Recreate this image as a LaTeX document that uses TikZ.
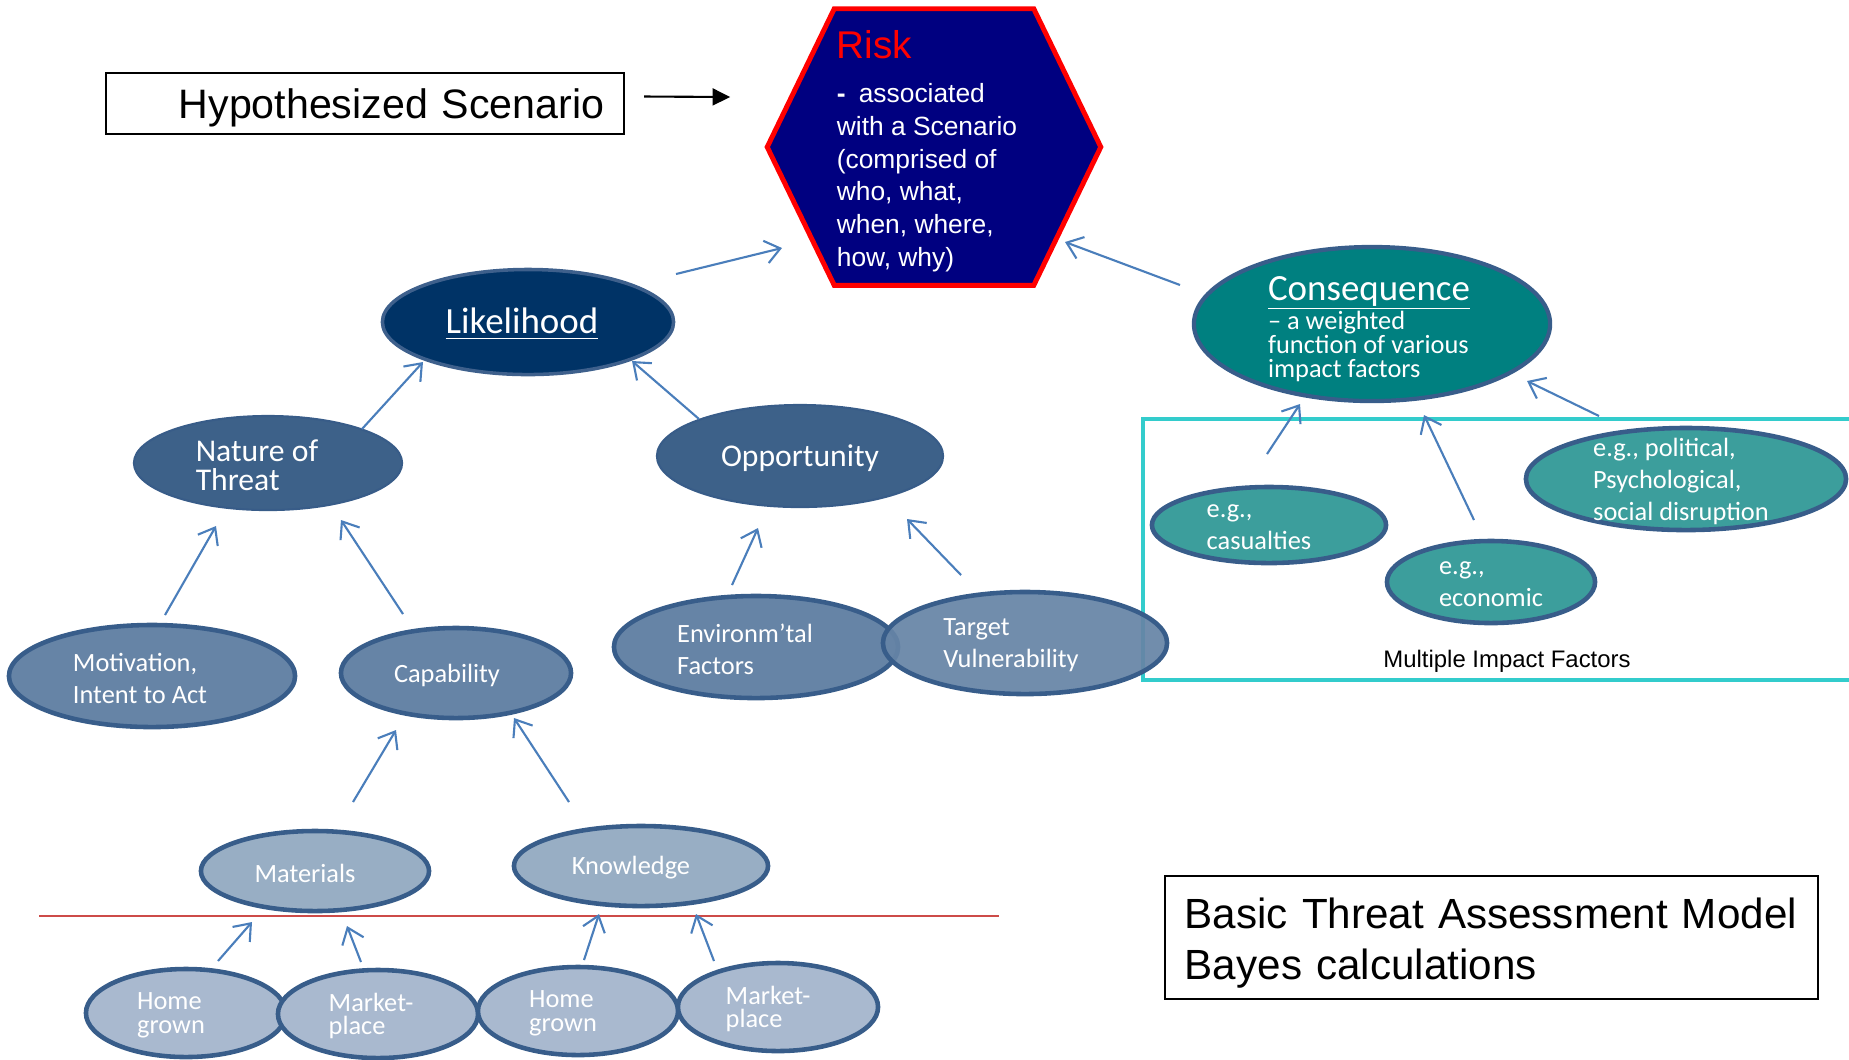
\documentclass[tikz,border=0pt]{standalone}
\usepackage{fontspec}
\setmainfont{Carlito}
\newfontfamily\arialfont{Liberation Sans}
\usetikzlibrary{shapes.geometric, arrows.meta}

\definecolor{riskblue}{RGB}{0,0,128}
\definecolor{likblue}{RGB}{0,51,102}
\definecolor{likedge}{RGB}{62,96,140}
\definecolor{midblue}{RGB}{61,97,137}
\definecolor{midedge}{RGB}{56,92,136}
\definecolor{capblue}{RGB}{102,132,166}
\definecolor{matblue}{RGB}{152,174,196}
\definecolor{srcblue}{RGB}{169,185,207}
\definecolor{edgeblue}{RGB}{56,93,138}
\definecolor{arrblue}{RGB}{74,126,187}
\definecolor{consteal}{RGB}{0,128,128}
\definecolor{impteal}{RGB}{60,158,156}
\definecolor{boxcyan}{RGB}{51,204,204}
\definecolor{cutred}{RGB}{205,75,72}

\newcommand{\bigf}{\fontsize{10.5}{12}\selectfont}
\newcommand{\tightskip}{\lineskiplimit-5pt\relax}

\begin{document}
\begin{tikzpicture}[x=0.01cm, y=-0.01cm,
    ell/.style={ellipse, inner sep=0pt, draw=edgeblue, line width=1.3pt},
    lvlone/.style={ell, fill=likblue, draw=likedge, line width=1pt},
    lvltwo/.style={ell, fill=midblue, draw=midedge, line width=0.6pt},
    lvlthree/.style={ell, fill=capblue},
    lvlfour/.style={ell, fill=matblue},
    lvlfive/.style={ell, fill=srcblue, minimum width=2cm, minimum height=0.88cm},
    conseq/.style={ell, fill=consteal, line width=1.2pt},
    impact/.style={ell, fill=impteal},
    lbl/.style={text=white, align=left, inner sep=0pt, yshift=-0.02cm},
    smallf/.style={font={\fontsize{7.5}{9.1}\selectfont}},
    tightf/.style={font={\fontsize{7.5}{6.7}\selectfont\tightskip}},
    midf/.style={font={\fontsize{9}{8.3}\selectfont\tightskip}},
    arr/.style={draw=arrblue, line width=0.6pt, -{Straight Barb[length=4.2pt,width=6.5pt]}},
    framebox/.style={draw, line width=0.6pt, inner ysep=0pt, inner xsep=0.2cm}]

    \useasboundingbox (0,0) rectangle (1849,1059);

    % Scenario box and arrow
    \node[framebox, text depth=0pt, minimum height=0.61cm, text width=4.78cm, align=right,
          font={\arialfont\fontsize{11.7}{14}\selectfont}] (hyp) at (365,103.5) {Hypothesized Scenario};

    % Risk hexagon
    \node[minimum width=3.32cm, minimum height=2.75cm, inner sep=0pt] (risk) at (934,147) {};
    \draw[red, line width=1.4pt, fill=riskblue]
        ([xshift=0.67cm]risk.north west) -- ([xshift=-0.67cm]risk.north east) -- (risk.east)
        -- ([xshift=-0.67cm]risk.south east) -- ([xshift=0.67cm]risk.south west) -- (risk.west) -- cycle;
    \node[lbl, font={\arialfont\fontsize{7.5}{9.3}\selectfont}] (risk-t) at ([shift={(-7,2)}]risk.center)
        {{\color{red}\fontsize{11}{13}\selectfont Risk}\\[3.4pt]\textbf{-}\enspace associated\\with a Scenario\\(comprised of\\who, what,\\when, where,\\how, why)};
    \draw[line width=0.6pt, -{Triangle[length=5pt,width=4.8pt]}] ([shift={(19,-7)}]hyp.east) -- ([shift={(-37,-50)}]risk.west);

    % Impact factor frame
    \draw[boxcyan, line width=1pt] (1143,419) rectangle (1880,680);
    \node[font={\arialfont\fontsize{6.8}{8}\selectfont}, inner sep=0pt] (mif) at (1507,661) {Multiple Impact Factors};

    % Cut line
    \draw[cutred, line width=0.5pt] (39,916) -- (999,916);

    % Likelihood side
    \node[lvlone, minimum width=2.91cm, minimum height=1.05cm] (lik) at (528,322) {};
    \node[lbl, font=\bigf] (lik-t) at ([xshift=-0.06cm]lik.center) {\underline{Likelihood}};

    \node[lvltwo, minimum width=2.68cm, minimum height=0.94cm] (nat) at (268,463) {};
    \node[lbl, midf] (nat-t) at ([xshift=-0.11cm]nat.center) {Nature of\\Threat};
    \node[lvltwo, minimum width=2.86cm, minimum height=1.02cm] (opp) at (800,456) {};
    \node[lbl, midf] (opp-t) at (opp.center) {Opportunity};

    \node[lvlthree, minimum width=2.86cm, minimum height=1.02cm] (mot) at (152,676) {};
    \node[lbl, smallf] (mot-t) at ([xshift=-0.12cm]mot.center) {Motivation,\\Intent to Act};
    \node[lvlthree, minimum width=2.30cm, minimum height=0.90cm] (cap) at (456,673) {};
    \node[lbl, smallf] (cap-t) at ([xshift=-0.09cm]cap.center) {Capability};
    \node[lvlthree, minimum width=2.84cm, minimum height=1.02cm] (env) at (756,647) {};
    \node[lbl, smallf] (env-t) at ([xshift=-0.11cm]env.center) {Environm’tal\\Factors};
    \node[lvlthree, fill opacity=0.93, minimum width=2.84cm, minimum height=1.02cm] (tgt) at (1025,643) {};
    \node[lbl, smallf] (tgt-t) at ([xshift=-0.14cm]tgt.center) {Target\\Vulnerability};

    \node[lvlfour, minimum width=2.28cm, minimum height=0.80cm] (mat) at (315,871) {};
    \node[lbl, smallf] (mat-t) at ([xshift=-0.10cm]mat.center) {Materials};
    \node[lvlfour, minimum width=2.54cm, minimum height=0.80cm] (know) at (641,866) {};
    \node[lbl, smallf] (know-t) at ([xshift=-0.10cm]know.center) {Knowledge};

    \node[lvlfive] (hga) at (186,1013) {};
    \node[lbl, tightf] (hga-t) at ([xshift=-0.15cm]hga.center) {Home\\grown};
    \node[lvlfive] (mpa) at (378,1014) {};
    \node[lbl, tightf] (mpa-t) at ([xshift=-0.07cm]mpa.center) {Market-\\place};
    \node[lvlfive] (hgb) at (578,1011) {};
    \node[lbl, tightf] (hgb-t) at ([xshift=-0.15cm]hgb.center) {Home\\grown};
    \node[lvlfive] (mpb) at (778,1007) {};
    \node[lbl, tightf] (mpb-t) at ([xshift=-0.10cm]mpb.center) {Market-\\place};

    % Consequence side
    \node[conseq, minimum width=3.56cm, minimum height=1.54cm] (cons) at (1372,324) {};
    \node[lbl, font={\fontsize{7.5}{6.8}\selectfont\tightskip}] (cons-t) at ([shift={(-3,3)}]cons.center)
        {{\bigf\underline{\raisebox{0pt}[\height][1pt]{Consequence}}}\\[1.6pt]– a weighted\\function of various\\impact factors};
    \node[impact, minimum width=2.34cm, minimum height=0.76cm] (cas) at (1269,525) {};
    \node[lbl, smallf] (cas-t) at ([xshift=-0.10cm]cas.center) {e.g.,\\casualties};
    \node[impact, minimum width=2.08cm, minimum height=0.82cm] (eco) at (1491,582) {};
    \node[lbl, smallf] (eco-t) at (eco.center) {e.g.,\\economic};
    \node[impact, minimum width=3.20cm, minimum height=1.02cm] (pol) at (1686,479) {};
    \node[lbl, smallf] (pol-t) at ([xshift=-0.05cm]pol.center) {e.g., political,\\Psychological,\\social disruption};

    % Arrows
    \draw[arr] ([shift={(148,-48)}]lik.center) -- ([shift={(-152,101)}]risk.center);
    \draw[arr] ([shift={(-192,-39)}]cons.center) -- ([shift={(131,95)}]risk.center);
    \draw[arr] ([shift={(94,-34)}]nat.center) -- ([shift={(-105,40)}]lik.center);
    \draw[arr] ([shift={(-101,-37)}]opp.center) -- ([shift={(104,39)}]lik.center);
    \draw[arr] ([shift={(13,-61)}]mot.center) -- ([shift={(-52,63)}]nat.center);
    \draw[arr] ([shift={(-53,-59)}]cap.center) -- ([shift={(73,57)}]nat.center);
    \draw[arr] ([shift={(-24,-62)}]env.center) -- ([shift={(-42,72)}]opp.center);
    \draw[arr] ([shift={(-64,-68)}]tgt.center) -- ([shift={(107,63)}]opp.center);
    \draw[arr] ([shift={(38,-69)}]mat.center) -- ([shift={(-60,57)}]cap.center);
    \draw[arr] ([shift={(-72,-64)}]know.center) -- ([shift={(58,45)}]cap.center);
    \draw[arr] ([shift={(32,-52)}]hga.center) -- ([shift={(-63,51)}]mat.center);
    \draw[arr] ([shift={(-17,-52)}]mpa.center) -- ([shift={(32,55)}]mat.center);
    \draw[arr] ([shift={(6,-51)}]hgb.center) -- ([shift={(-42,48)}]know.center);
    \draw[arr] ([shift={(-64,-46)}]mpb.center) -- ([shift={(55,48)}]know.center);
    \draw[arr] ([shift={(-2,-71)}]cas.center) -- ([shift={(-72,80)}]cons.center);
    \draw[arr] ([shift={(-17,-62)}]eco.center) -- ([shift={(52,91)}]cons.center);
    \draw[arr] ([shift={(-87,-63)}]pol.center) -- ([shift={(155,57)}]cons.center);

    % Title box
    \node[framebox, minimum height=1.23cm, text width=6.13cm, align=left,
          font={\arialfont\fontsize{12}{14.5}\selectfont}] (title) at (1491.5,937.5)
        {\rule{0pt}{11.6pt}Basic Threat Assessment Model\\Bayes calculations};
\end{tikzpicture}
\end{document}
